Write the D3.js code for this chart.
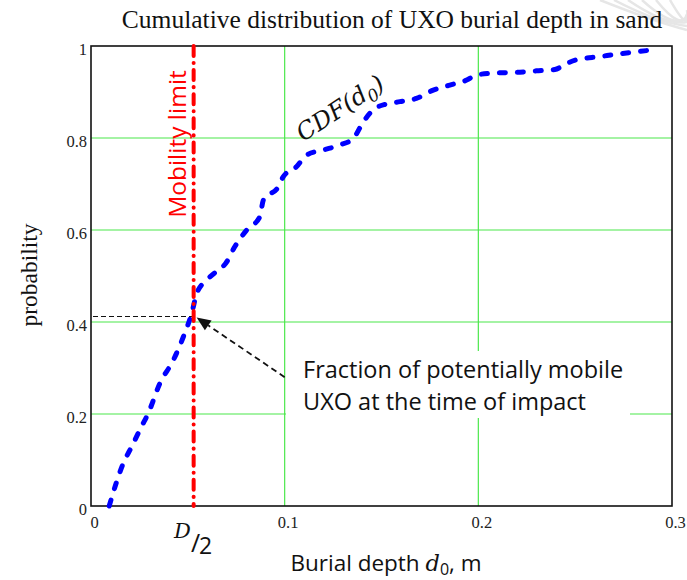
<!DOCTYPE html>
<meta charset="utf-8">
<script src="https://d3js.org/d3.v7.min.js"></script>

<style>
body {
  margin: 0;
  background: #fff;
}

svg {
  display: block;
}

text.tick-label {
  font-family: 'Liberation Serif', 'Times New Roman', serif;
  font-size: 16.5px;
  fill: #222;
}

text.title {
  font-family: 'Liberation Serif', 'Times New Roman', serif;
  font-size: 25.5px;
  fill: #111;
}

text.ylabel {
  font-family: 'Liberation Serif', 'Times New Roman', serif;
  font-size: 23.5px;
  fill: #111;
}

text.sans {
  font-family: 'Open Sans', sans-serif;
  fill: #111;
}

text.math {
  font-family: 'DejaVu Serif', 'Liberation Serif', serif;
  font-style: italic;
  fill: #111;
}

.grid line {
  stroke: #4be84b;
  stroke-width: 1.2;
}
</style>

<svg width="687" height="580"></svg>

<script>
  // CDF of burial depth
  const depth = [0.0094, 0.0167, 0.021, 0.026, 0.0296, 0.0356, 0.0425, 0.0477, 0.052, 0.0546,
    0.0597, 0.0657, 0.0695, 0.0743, 0.0804, 0.0872, 0.089, 0.0967, 0.0993, 0.1062,
    0.1113, 0.12, 0.1286, 0.1354, 0.1406, 0.1457, 0.1526, 0.1595, 0.168, 0.1767,
    0.1853, 0.194, 0.199, 0.2077, 0.2215, 0.23, 0.2395, 0.2456, 0.2507, 0.2628,
    0.273, 0.2869];
  const prob = [0, 0.093, 0.129, 0.172, 0.202, 0.267, 0.317, 0.368, 0.419, 0.462,
    0.491, 0.513, 0.527, 0.564, 0.600, 0.629, 0.665, 0.694, 0.716, 0.738,
    0.763, 0.774, 0.785, 0.799, 0.835, 0.861, 0.874, 0.879, 0.886, 0.904,
    0.915, 0.926, 0.937, 0.941, 0.943, 0.946, 0.949, 0.962, 0.97, 0.977,
    0.983, 0.99];

  const xTicks = [0, 0.1, 0.2, 0.3];
  const yTicks = [0, 0.2, 0.4, 0.6, 0.8, 1];
  const xTickLabels = ['0', '0.1', '0.2', '0.3'];
  const yTickLabels = ['0', '0.2', '0.4', '0.6', '0.8', '1'];
  const xGrid = [0.1, 0.2];
  const yGrid = [0.2, 0.4, 0.6, 0.8];

  const mobilityLimit = 0.053;   // D/2
  const mobileFraction = 0.412;
  const arrowStart = [0.1, 0.28];

  const svg = d3.select('svg');

  const plot = { left: 91, right: 672, top: 46, bottom: 506 };

  const x = d3.scaleLinear().domain([0, 0.3]).range([plot.left, plot.right]);
  const y = d3.scaleLinear().domain([0, 1]).range([plot.bottom, plot.top]);

  // faint scan stripes in the top right corner
  const stripes = svg.append('g').attr('fill', 'none').attr('stroke', '#e6e6e6').attr('stroke-width', 2.5);
  d3.range(6).forEach(k => {
    stripes.append('path')
      .attr('d', `M${600 + k * 14},0 Q${650 + k * 8},${20 + k * 3} 687,${30 - k * 4}`);
  });

  // grid
  const grid = svg.append('g').attr('class', 'grid');
  grid.selectAll('line.v')
    .data(xGrid)
    .enter().append('line')
    .attr('x1', d => x(d)).attr('x2', d => x(d))
    .attr('y1', y(0)).attr('y2', y(1));
  grid.selectAll('line.h')
    .data(yGrid)
    .enter().append('line')
    .attr('x1', x(0)).attr('x2', x(0.3))
    .attr('y1', d => y(d)).attr('y2', d => y(d));

  // axes: labels only, no tick marks
  const xAxis = svg.append('g')
    .attr('transform', `translate(3, ${plot.bottom})`)
    .call(d3.axisBottom(x).tickValues(xTicks).tickSize(0).tickPadding(10)
      .tickFormat((d, i) => xTickLabels[i]));
  const yAxis = svg.append('g')
    .attr('transform', `translate(${plot.left - 1}, 3)`)
    .call(d3.axisLeft(y).tickValues(yTicks).tickSize(0).tickPadding(3)
      .tickFormat((d, i) => yTickLabels[i]));
  [xAxis, yAxis].forEach(a => {
    a.attr('font-family', null).attr('font-size', null);
    a.select('.domain').remove();
    a.selectAll('text').attr('class', 'tick-label');
  });

  // frame
  svg.append('rect')
    .attr('x', plot.left).attr('y', plot.top)
    .attr('width', plot.right - plot.left).attr('height', plot.bottom - plot.top)
    .attr('fill', 'none')
    .attr('stroke', '#111')
    .attr('stroke-width', 1.6);

  // white box behind the note
  svg.append('rect')
    .attr('x', 286).attr('y', 351)
    .attr('width', 344).attr('height', 67)
    .attr('fill', '#fff');

  // guide to the fraction
  svg.append('line')
    .attr('x1', x(0) + 2).attr('x2', x(mobilityLimit))
    .attr('y1', y(mobileFraction)).attr('y2', y(mobileFraction))
    .attr('stroke', '#111')
    .attr('stroke-width', 1.2)
    .attr('stroke-dasharray', '5 3');

  // CDF curve
  const line = d3.line()
    .x(i => x(depth[i]))
    .y(i => y(prob[i]))
    .curve(d3.curveMonotoneX);

  svg.append('path')
    .attr('d', line(d3.range(depth.length)))
    .attr('fill', 'none')
    .attr('stroke', '#0000ff')
    .attr('stroke-width', 5)
    .attr('stroke-linecap', 'round')
    .attr('stroke-dasharray', '6 12');

  // mobility limit
  svg.append('line')
    .attr('x1', x(mobilityLimit)).attr('x2', x(mobilityLimit))
    .attr('y1', y(1)).attr('y2', y(0))
    .attr('stroke', '#ff0000')
    .attr('stroke-width', 4)
    .attr('stroke-linecap', 'round')
    .attr('stroke-dasharray', '10 7 0.1 7');

  svg.append('text')
    .attr('class', 'sans')
    .attr('transform', `translate(${x(mobilityLimit) - 8}, 144) rotate(-90)`)
    .attr('text-anchor', 'middle')
    .attr('font-size', 24.5)
    .style('fill', '#ff0000')
    .text('Mobility limit');

  // arrow
  const ax0 = x(arrowStart[0]), ay0 = y(arrowStart[1]);
  const ax1 = x(mobilityLimit) + 3, ay1 = y(mobileFraction) + 1;
  const ang = Math.atan2(ay1 - ay0, ax1 - ax0);
  const headLen = 14, headW = 6;
  const bx = ax1 - headLen * Math.cos(ang), by = ay1 - headLen * Math.sin(ang);
  svg.append('line')
    .attr('x1', ax0).attr('y1', ay0)
    .attr('x2', bx).attr('y2', by)
    .attr('stroke', '#111')
    .attr('stroke-width', 1.8)
    .attr('stroke-dasharray', '6 4');
  svg.append('path')
    .attr('d', `M${ax1},${ay1}L${bx - headW * Math.sin(ang)},${by + headW * Math.cos(ang)}L${bx + headW * Math.sin(ang)},${by - headW * Math.cos(ang)}Z`)
    .attr('fill', '#111');

  // note
  svg.append('text')
    .attr('class', 'sans')
    .attr('x', 303).attr('y', 378)
    .attr('font-size', 23.5)
    .text('Fraction of potentially mobile');
  svg.append('text')
    .attr('class', 'sans')
    .attr('x', 303).attr('y', 410)
    .attr('font-size', 23.5)
    .text('UXO at the time of impact');

  // CDF(d0) label
  const cdf = svg.append('text')
    .attr('class', 'math')
    .attr('transform', 'translate(303, 142) rotate(-33)')
    .attr('font-size', 24);
  cdf.append('tspan').text('CDF(d');
  cdf.append('tspan').attr('font-size', 17).attr('dy', 5).text('0');
  cdf.append('tspan').attr('dy', -5).text(')');

  // title
  svg.append('text')
    .attr('class', 'title')
    .attr('x', 392).attr('y', 28)
    .attr('text-anchor', 'middle')
    .text('Cumulative distribution of UXO burial depth in sand');

  // y label
  svg.append('text')
    .attr('class', 'ylabel')
    .attr('transform', 'translate(37, 275) rotate(-90)')
    .attr('text-anchor', 'middle')
    .text('probability');

  // x label
  const xl = svg.append('text')
    .attr('class', 'sans')
    .attr('x', 386).attr('y', 571)
    .attr('text-anchor', 'middle')
    .attr('font-size', 22.5);
  xl.append('tspan').text('Burial depth ');
  xl.append('tspan').style('font-family', 'DejaVu Serif, serif').style('font-style', 'italic').text('d');
  xl.append('tspan').attr('font-size', 16).attr('dy', 4).text('0');
  xl.append('tspan').attr('dy', -4).text(', m');

  // D/2 under the limit line
  svg.append('text')
    .attr('x', 174).attr('y', 538)
    .attr('class', 'math')
    .attr('font-size', 21)
    .text('D');
  svg.append('text')
    .attr('class', 'sans')
    .attr('x', 191).attr('y', 552)
    .attr('font-size', 25)
    .text('/');
  svg.append('text')
    .attr('class', 'sans')
    .attr('x', 199).attr('y', 554)
    .attr('font-size', 23)
    .text('2');
</script>
